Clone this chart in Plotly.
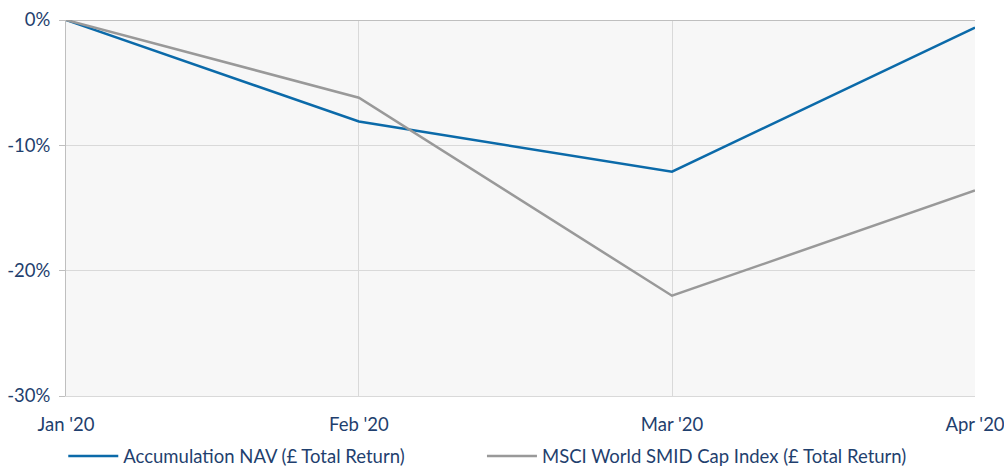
import plotly.graph_objects as go

dates = ["2020-01-31", "2020-02-29", "2020-03-31", "2020-04-30"]
tick_labels = ["Jan '20", "Feb '20", "Mar '20", "Apr '20"]
nav = [0.0, -8.1, -12.1, -0.6]
msci = [0.0, -6.2, -22.0, -13.6]
y_ticks = [0, -10, -20, -30]
y_tick_labels = ["0%", "-10%", "-20%", "-30%"]

text_color = "#1f3f6e"
font_family = "Lato"

fig = go.Figure()
fig.add_trace(go.Scatter(x=dates, y=nav, mode="lines", name="Accumulation NAV (£ Total Return)",
                         line=dict(color="#0b6aa9", width=2.5), legend="legend"))
fig.add_trace(go.Scatter(x=dates, y=msci, mode="lines", name="MSCI World SMID Cap Index (£ Total Return)",
                         line=dict(color="#999999", width=2.5), legend="legend2"))

legend_common = dict(orientation="h", xanchor="left", y=-0.11, yanchor="top",
                     font=dict(size=18.5, color=text_color), itemwidth=50,
                     borderwidth=0, bgcolor="rgba(0,0,0,0)")

fig.update_layout(
    width=1004, height=467,
    margin=dict(l=66, r=29, t=20, b=71, autoexpand=False),
    paper_bgcolor="white",
    plot_bgcolor="#f7f7f7",
    font=dict(family=font_family, size=18.5, color=text_color),
    showlegend=True,
    legend=dict(x=-0.003, **legend_common),
    legend2=dict(x=0.4576, **legend_common),
)
fig.update_xaxes(
    type="date",
    range=[dates[0], dates[-1]],
    tickvals=dates, ticktext=tick_labels,
    showgrid=True, gridcolor="#d9d9d9", gridwidth=1,
    showline=True, linecolor="#d9d9d9", linewidth=1,
    ticks="", ticklabelstandoff=12, ticklabeloverflow="allow",
    zeroline=False, automargin=False,
)
fig.update_yaxes(
    range=[-30, 0],
    tickvals=y_ticks, ticktext=y_tick_labels,
    showgrid=True, gridcolor="#d9d9d9", gridwidth=1,
    showline=True, linecolor="#bfbfbf", linewidth=1,
    ticks="outside", ticklen=6, tickcolor="#bfbfbf", ticklabelstandoff=5,
    zeroline=True, zerolinecolor="#bfbfbf", zerolinewidth=1, automargin=False,
)

fig.write_html("out.html")
